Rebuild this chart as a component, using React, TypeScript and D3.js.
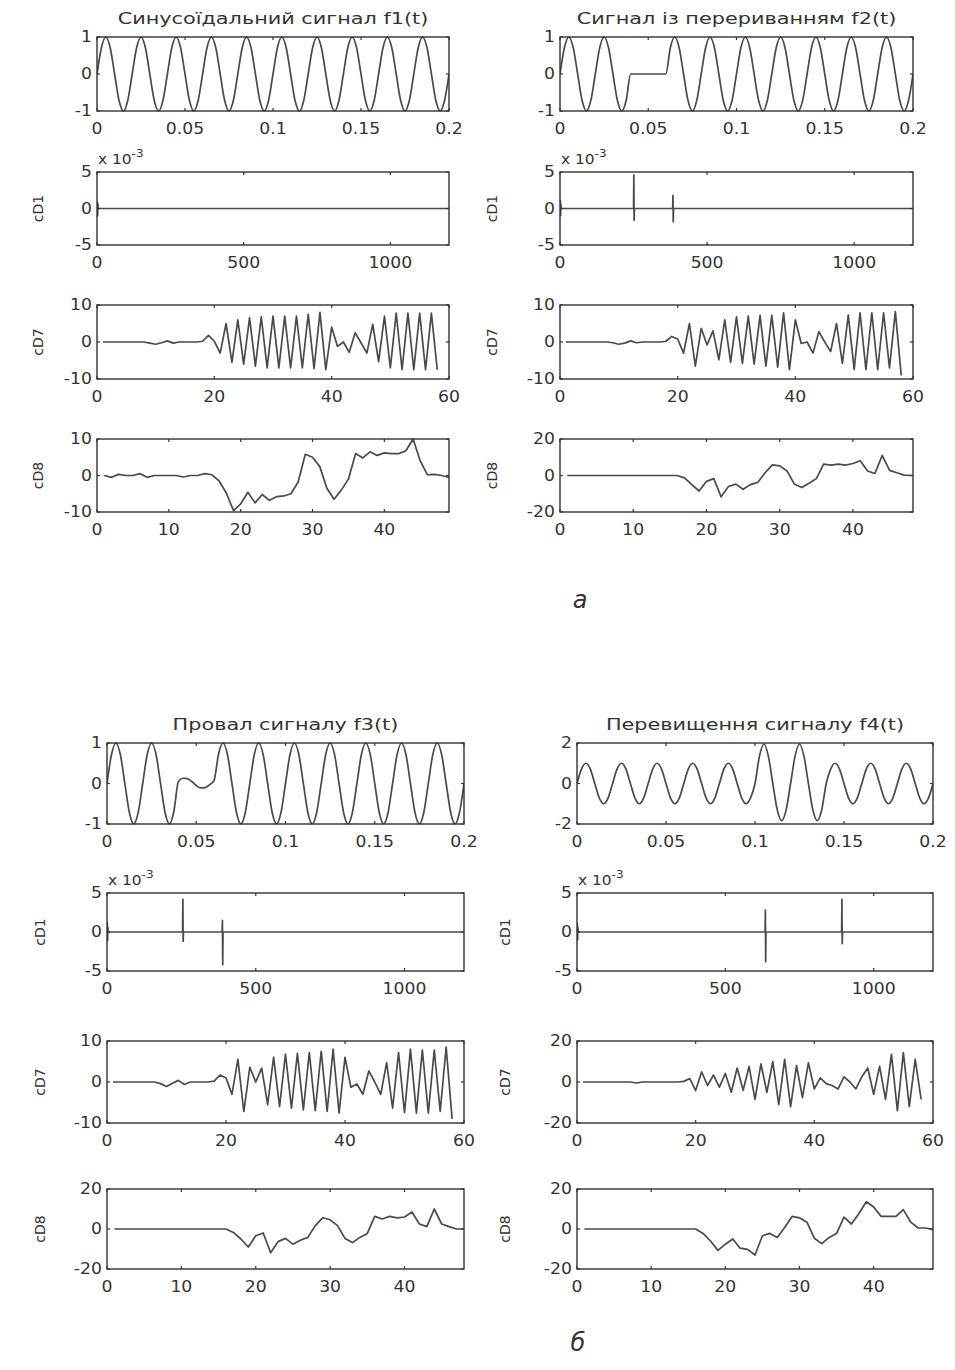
import React from "react";
import * as d3 from "d3";

type Pt = [number, number];

// ---------------- DATA ----------------
const DT = 0.0025; // sample step of the time signals (s)

const f1Values = [
  0, 0.71, 1, 0.71, 0, -0.71, -1, -0.71,
  0, 0.71, 1, 0.71, 0, -0.71, -1, -0.71,
  0, 0.71, 1, 0.71, 0, -0.71, -1, -0.71,
  0, 0.71, 1, 0.71, 0, -0.71, -1, -0.71,
  0, 0.71, 1, 0.71, 0, -0.71, -1, -0.71,
  0, 0.71, 1, 0.71, 0, -0.71, -1, -0.71,
  0, 0.71, 1, 0.71, 0, -0.71, -1, -0.71,
  0, 0.71, 1, 0.71, 0, -0.71, -1, -0.71,
  0, 0.71, 1, 0.71, 0, -0.71, -1, -0.71,
  0, 0.71, 1, 0.71, 0, -0.71, -1, -0.71,
  0,
];

const f2Values = [
  0, 0.71, 1, 0.71, 0, -0.71, -1, -0.71,
  0, 0.71, 1, 0.71, 0, -0.71, -1, -0.71,
  0, 0, 0, 0, 0, 0, 0, 0,
  0, 0.71, 1, 0.71, 0, -0.71, -1, -0.71,
  0, 0.71, 1, 0.71, 0, -0.71, -1, -0.71,
  0, 0.71, 1, 0.71, 0, -0.71, -1, -0.71,
  0, 0.71, 1, 0.71, 0, -0.71, -1, -0.71,
  0, 0.71, 1, 0.71, 0, -0.71, -1, -0.71,
  0, 0.71, 1, 0.71, 0, -0.71, -1, -0.71,
  0, 0.71, 1, 0.71, 0, -0.71, -1, -0.71,
  0,
];

const f3Values = [
  0, 0.71, 1, 0.71, 0, -0.71, -1, -0.71,
  0, 0.71, 1, 0.71, 0, -0.71, -1, -0.68,
  0.05, 0.13, 0.12, 0.05, -0.05, -0.11, -0.1, -0.03,
  0.08, 0.73, 1, 0.71, 0, -0.71, -1, -0.71,
  0, 0.71, 1, 0.71, 0, -0.71, -1, -0.71,
  0, 0.71, 1, 0.71, 0, -0.71, -1, -0.71,
  0, 0.71, 1, 0.71, 0, -0.71, -1, -0.71,
  0, 0.71, 1, 0.71, 0, -0.71, -1, -0.71,
  0, 0.71, 1, 0.71, 0, -0.71, -1, -0.71,
  0, 0.71, 1, 0.71, 0, -0.71, -1, -0.71,
  0,
];

const f4Values = [
  0, 0.71, 1, 0.71, 0, -0.71, -1, -0.71,
  0, 0.71, 1, 0.71, 0, -0.71, -1, -0.71,
  0, 0.71, 1, 0.71, 0, -0.71, -1, -0.71,
  0, 0.71, 1, 0.71, 0, -0.71, -1, -0.71,
  0, 0.71, 1, 0.71, 0, -0.71, -1, -0.71,
  0, 1.35, 1.95, 1.35, 0, -1.3, -1.83, -1.3,
  0, 1.35, 1.95, 1.35, 0, -1.3, -1.83, -1.3,
  0, 0.71, 1, 0.71, 0, -0.71, -1, -0.71,
  0, 0.71, 1, 0.71, 0, -0.71, -1, -0.71,
  0, 0.71, 1, 0.71, 0, -0.71, -1, -0.71,
  0,
];

// cD1 detail coefficients (x 1e-3): sparse [index, value]
const cd1F1: Pt[] = [[0, 0], [1, 0.9], [2, -1], [3, 0.6], [4, 0], [1200, 0]];
const cd1F2: Pt[] = [
  [0, 0], [1, 1.1], [2, -1], [3, 0.6], [4, 0],
  [250, 0], [251, 4.6], [252, -1.6], [253, 0],
  [383, 0], [384, 1.8], [385, -1.8], [386, 0], [1200, 0],
];
const cd1F3: Pt[] = [
  [0, 0], [1, 1.2], [2, -1.1], [3, 0.6], [4, 0],
  [254, 0], [255, 4.2], [256, -1.2], [257, 0],
  [387, 0], [388, 1.5], [389, -4.2], [390, 0], [1200, 0],
];
const cd1F4: Pt[] = [
  [0, 0], [1, 1.1], [2, -1], [3, 0.6], [4, 0],
  [634, 0], [635, 2.8], [636, -3.8], [637, 0],
  [892, 0], [893, 4.2], [894, -1.5], [895, 0], [1200, 0],
];

// cD7 coefficients, samples 1..58
const cd7F1 = [
  0, 0, 0, 0, 0, 0, 0, 0, -0.3, -0.6, -0.2, 0.3, -0.3, 0, 0, 0, 0, 0.2, 1.8, 0.2,
  -3, 5, -5.5, 6, -6, 6.5, -6.5, 6.8, -7, 7, -7, 7, -7, 7, -7, 7.5, -7.2, 8, -7.5, 4,
  -1.2, 0, -2.8, 2.5, -0.2, -3, 4.8, -5.3, 7, -7, 7.8, -7.5, 7.8, -7.5, 7.8, -7.5, 7.8, -7.5,
];
const cd7F2 = [
  0, 0, 0, 0, 0, 0, 0, 0, -0.2, -0.6, -0.3, 0.3, -0.2, 0, 0, 0, 0, 0.2, 1.5, 0.8,
  -3, 5, -6.5, 3.7, -0.8, 3, -4.8, 6, -5.5, 6.8, -5.8, 7, -6, 7.2, -6.5, 7.2, -6.8, 7.9, -7.5, 6,
  -0.4, 0, -3, 2.8, 0, -2.6, 5, -5.8, 7.3, -7.4, 7.9, -7.5, 7.9, -7.5, 7.9, -7, 8.2, -9,
];
const cd7F3 = [
  0, 0, 0, 0, 0, 0, 0, 0, -0.4, -1.1, -0.3, 0.4, -0.6, 0, 0, 0, 0, 0.2, 1.7, 1.0,
  -3, 5.5, -7.2, 3.6, 0, 3.4, -5.5, 6.1, -6, 6.8, -6.4, 7, -6.8, 7.2, -7, 7.5, -7.2, 8, -7.6, 6,
  -1.3, -0.5, -3, 2.7, 0, -3, 4.7, -6.4, 7.2, -7.5, 8, -7.6, 7.8, -7.6, 7.8, -7.2, 8.5, -9,
];
const cd7F4 = [
  0, 0, 0, 0, 0, 0, 0, 0, 0, -0.5, 0, 0, 0, 0, 0, 0, 0, 0.3, 1.7, -4.2,
  5, -1.7, 3.4, -2.5, 4.2, -5, 6.8, -4, 7.6, -8.5, 8.8, -5, 10, -11, 11, -12, 8, -7.6, 9.3, -3.4,
  2, -0.8, -1.7, -3.4, 2.5, 0, -3.4, 2.5, 6.8, -6, 7.6, -8.5, 13.5, -14, 14.4, -12, 11, -8.5,
];

// cD8 coefficients
const cd8F1 = [
  0, -0.5, 0.3, 0, 0, 0.5, -0.5, 0, 0, 0, 0, -0.4, 0, 0, 0.5, 0.2, -1.5, -4.8, -9.6, -7.8,
  -4.6, -7.5, -5.2, -6.8, -5.8, -5.6, -5, -1.8, 5.8, 5, 2.5, -3.5, -6.5, -4, -1, 6, 4.8, 6.5, 5.5, 6.2,
  6, 6, 6.8, 10, 4, 0.2, 0.3, 0, -0.5,
];
const cd8F2 = [
  0, 0, 0, 0, 0, 0, 0, 0, 0, 0, 0, 0, 0, 0, 0, 0, -1.3, -5, -8.5, -3.2,
  -1.7, -11.7, -6, -4.7, -7.5, -5, -3.8, 1.5, 5.8, 5.3, 2.5, -4.7, -6.6, -4.2, -1.7, 6.2, 5.7, 6.2, 5.7, 6.6,
  8.1, 2.5, 1.1, 11, 2.8, 1.5, 0.2, 0,
];
const cd8F3 = [
  0, 0, 0, 0, 0, 0, 0, 0, 0, 0, 0, 0, 0, 0, 0, 0, -1.7, -5, -9, -3.4,
  -2, -11.9, -6.3, -4.7, -7.6, -5.6, -4.2, 1.7, 5.6, 4.6, 1.7, -4.7, -6.8, -4.2, -2.2, 6.3, 5, 6.3, 5.6, 6,
  8.5, 2.5, 1.2, 10, 2.5, 1.2, 0, 0,
];
const cd8F4 = [
  0, 0, 0, 0, 0, 0, 0, 0, 0, 0, 0, 0, 0, 0, 0, 0, -2.2, -6, -10.7, -7.6,
  -5, -9.6, -10.2, -13, -3.4, -2.2, -4.2, 0.8, 6.3, 5.6, 3.4, -4.6, -7.3, -4.2, -2.2, 5.9, 2.5, 7.6, 13.6, 11,
  6.3, 6.3, 6.3, 9.7, 3.4, 0.5, 0.5, -0.3,
];

// tick values
const fTicksX = [0, 0.05, 0.1, 0.15, 0.2];
const fTicksY1 = [-1, 0, 1];
const fTicksY2 = [-2, 0, 2];
const cd1TicksX = [0, 500, 1000];
const cd1TicksY = [-5, 0, 5];
const cd7TicksX = [0, 20, 40, 60];
const cd8TicksX = [0, 10, 20, 30, 40];
const ticksY10 = [-10, 0, 10];
const ticksY20 = [-20, 0, 20];

const titles = [
  "Синусоїдальний сигнал f1(t)",
  "Сигнал із перериванням f2(t)",
  "Провал сигналу f3(t)",
  "Перевищення сигналу f4(t)",
];
const captions = ["а", "б"];

// ---------------- LAYOUT ----------------
const FONT = "DejaVu Sans";
const INK = "#333";
const LINE = "#4a4a4a";

const toTime = (vals: number[]): Pt[] => vals.map((v, i) => [i * DT, v]);
const toIndex = (vals: number[]): Pt[] => vals.map((v, i) => [i + 1, v]);

interface Box { x0: number; x1: number; y0: number; y1: number }

function SText(props: {
  x: number; y: number; size: number; anchor?: string; sx?: number;
  children: React.ReactNode; rotate?: number; style?: string; weight?: string;
}) {
  const { x, y, size, anchor = "middle", sx = 1.15, rotate = 0 } = props;
  return (
    <g transform={`translate(${x},${y}) rotate(${rotate}) scale(${sx},1)`}>
      <text
        textAnchor={anchor as any}
        dominantBaseline="central"
        fontSize={size}
        fontFamily={FONT}
        fontStyle={props.style}
        fontWeight={props.weight}
        fill={INK}
      >
        {props.children}
      </text>
    </g>
  );
}

function Panel(props: {
  id: string;
  box: Box;
  xDomain: [number, number];
  yDomain: [number, number];
  xTicks: number[];
  yTicks: number[];
  points: Pt[];
  smooth?: boolean;
  title?: string;
  ylabel?: string;
  ylabelX?: number;
  exponent?: boolean;
}) {
  const { box } = props;
  const x = d3.scaleLinear().domain(props.xDomain).range([box.x0, box.x1]);
  const y = d3.scaleLinear().domain(props.yDomain).range([box.y1, box.y0]);
  const line = d3
    .line<Pt>()
    .x((d) => x(d[0]))
    .y((d) => y(d[1]))
    .curve(props.smooth ? d3.curveMonotoneX : d3.curveLinear);
  const clipId = `clip-${props.id}`;
  const tl = 3;
  return (
    <g>
      <defs>
        <clipPath id={clipId}>
          <rect x={box.x0} y={box.y0 - 1} width={box.x1 - box.x0} height={box.y1 - box.y0 + 2} />
        </clipPath>
      </defs>
      <path
        d={line(props.points) || ""}
        fill="none"
        stroke={LINE}
        strokeWidth={1.7}
        strokeLinejoin="round"
        clipPath={`url(#${clipId})`}
      />
      <rect
        x={box.x0}
        y={box.y0}
        width={box.x1 - box.x0}
        height={box.y1 - box.y0}
        fill="none"
        stroke={INK}
        strokeWidth={1.4}
      />
      {props.xTicks.map((t) => (
        <g key={`xt${t}`}>
          <line x1={x(t)} x2={x(t)} y1={box.y1} y2={box.y1 - tl} stroke={INK} strokeWidth={1.2} />
          <line x1={x(t)} x2={x(t)} y1={box.y0} y2={box.y0 + tl} stroke={INK} strokeWidth={1.2} />
          <SText x={x(t)} y={box.y1 + 18} size={15}>{String(t)}</SText>
        </g>
      ))}
      {props.yTicks.map((t) => (
        <g key={`yt${t}`}>
          <line x1={box.x0} x2={box.x0 + tl} y1={y(t)} y2={y(t)} stroke={INK} strokeWidth={1.2} />
          <line x1={box.x1} x2={box.x1 - tl} y1={y(t)} y2={y(t)} stroke={INK} strokeWidth={1.2} />
          <SText x={box.x0 - 5} y={y(t)} size={15} anchor="end">{String(t)}</SText>
        </g>
      ))}
      {props.title && (
        <SText x={(box.x0 + box.x1) / 2} y={box.y0 - 19} size={16} sx={1.3}>
          {props.title}
        </SText>
      )}
      {props.ylabel && (
        <SText x={props.ylabelX ?? box.x0 - 40} y={(box.y0 + box.y1) / 2} size={14} rotate={-90} sx={1}>
          {props.ylabel}
        </SText>
      )}
      {props.exponent && (
        <g transform={`translate(${box.x0 + 1},${box.y0 - 13}) scale(1.1,1)`}>
          <text fontFamily={FONT} fontSize={14} fill={INK} dominantBaseline="central">
            x 10
            <tspan dy={-6} fontSize={11}>-3</tspan>
          </text>
        </g>
      )}
    </g>
  );
}

export default function App() {
  // group a
  const aL = { x0: 97, x1: 449 };
  const aR = { x0: 560, x1: 913 };
  const aRows = [[37, 111], [172, 245], [305, 379], [439, 512]];
  // group б
  const bL = { x0: 107, x1: 464 };
  const bR = { x0: 577, x1: 933 };
  const bRows = [[743, 824], [893, 971], [1041, 1123], [1189, 1269]];

  const bx = (c: { x0: number; x1: number }, r: number[]): Box => ({ x0: c.x0, x1: c.x1, y0: r[0], y1: r[1] });

  const columns = [
    { id: "f1", col: aL, rows: aRows, f: f1Values, fy: fTicksY1, fd: [-1, 1], cd1: cd1F1, cd7: cd7F1, cd8: cd8F1, d7: 10, d8: 10, x8: 49, yl: 38, title: titles[0] },
    { id: "f2", col: aR, rows: aRows, f: f2Values, fy: fTicksY1, fd: [-1, 1], cd1: cd1F2, cd7: cd7F2, cd8: cd8F2, d7: 10, d8: 20, x8: 48.2, yl: 492, title: titles[1] },
    { id: "f3", col: bL, rows: bRows, f: f3Values, fy: fTicksY1, fd: [-1, 1], cd1: cd1F3, cd7: cd7F3, cd8: cd8F3, d7: 10, d8: 20, x8: 48, yl: 40, title: titles[2] },
    { id: "f4", col: bR, rows: bRows, f: f4Values, fy: fTicksY2, fd: [-2, 2], cd1: cd1F4, cd7: cd7F4, cd8: cd8F4, d7: 20, d8: 20, x8: 48, yl: 505, title: titles[3] },
  ];

  return (
    <svg
      width={955}
      height={1370}
      style={{ position: "absolute", left: 0, top: 0, background: "#fff" }}
    >
      <rect x={0} y={0} width={955} height={1370} fill="#fff" />
      {columns.map((c) => (
        <g key={c.id}>
          <Panel
            id={`${c.id}-sig`}
            box={bx(c.col, c.rows[0])}
            xDomain={[0, 0.2]}
            yDomain={c.fd as [number, number]}
            xTicks={fTicksX}
            yTicks={c.fy}
            points={toTime(c.f)}
            smooth
            title={c.title}
          />
          <Panel
            id={`${c.id}-cd1`}
            box={bx(c.col, c.rows[1])}
            xDomain={[0, 1200]}
            yDomain={[-5, 5]}
            xTicks={cd1TicksX}
            yTicks={cd1TicksY}
            points={c.cd1}
            ylabel="cD1"
            ylabelX={c.yl}
            exponent
          />
          <Panel
            id={`${c.id}-cd7`}
            box={bx(c.col, c.rows[2])}
            xDomain={[0, 60]}
            yDomain={[-c.d7, c.d7]}
            xTicks={cd7TicksX}
            yTicks={c.d7 === 10 ? ticksY10 : ticksY20}
            points={toIndex(c.cd7)}
            ylabel="cD7"
            ylabelX={c.yl}
          />
          <Panel
            id={`${c.id}-cd8`}
            box={bx(c.col, c.rows[3])}
            xDomain={[0, c.x8]}
            yDomain={[-c.d8, c.d8]}
            xTicks={cd8TicksX}
            yTicks={c.d8 === 10 ? ticksY10 : ticksY20}
            points={toIndex(c.cd8)}
            ylabel="cD8"
            ylabelX={c.yl}
          />
        </g>
      ))}
      <SText x={580} y={600} size={24} style="italic" sx={1}>{captions[0]}</SText>
      <SText x={578} y={1343} size={24} style="italic" sx={1}>{captions[1]}</SText>
    </svg>
  );
}
